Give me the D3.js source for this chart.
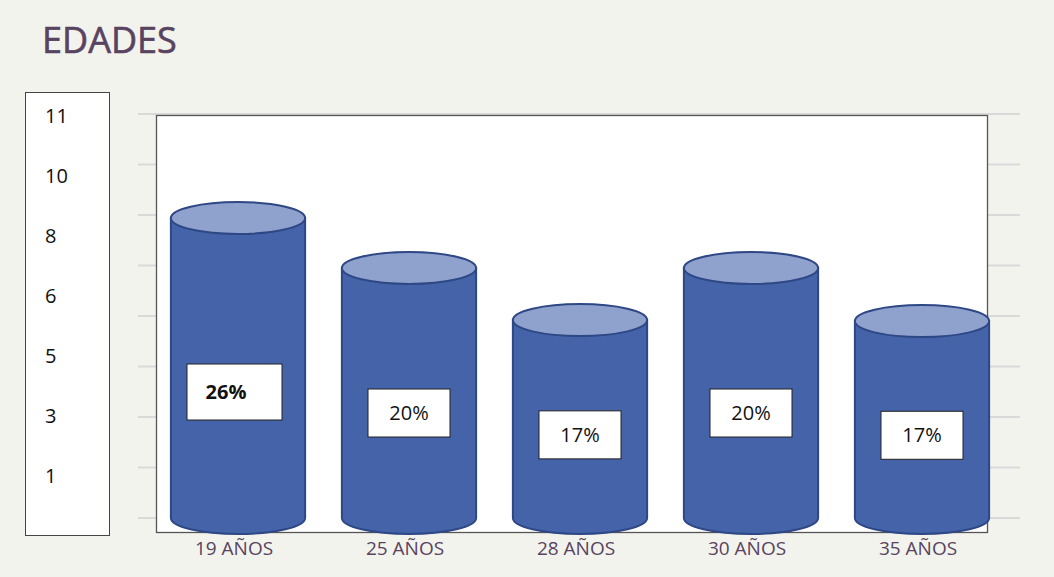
<!DOCTYPE html>
<html>
<head>
<meta charset="utf-8">
<script src="https://cdn.jsdelivr.net/npm/d3@7"></script>
<style>
  body { margin: 0; background: #f3f3ee; }
  svg { display: block; font-family: "Open Sans", sans-serif; }
</style>
</head>
<body>
<div id="chart"></div>
<script>
// data
const categories = ["19 AÑOS", "25 AÑOS", "28 AÑOS", "30 AÑOS", "35 AÑOS"];
const values = [5.94, 4.95, 3.92, 4.95, 3.9];
const percents = ["26%", "20%", "17%", "20%", "17%"];
const sideLabels = ["11", "10", "8", "6", "5", "3", "1"];

var width = 1054,
height = 577;

var svg = d3.select("#chart")
.append("svg")
.attr("width", width)
.attr("height", height);

svg.append("rect")
.attr("width", width)
.attr("height", height)
.style("fill", "#f3f3ee");

// title
svg.append("text")
.attr("x", 42)
.attr("y", 53)
.attr("font-size", 36)
.attr("fill", "#584360")
.style("stroke", "#584360")
.style("stroke-width", 0.6)
.text("EDADES");

var yScale = d3.scaleLinear()
.domain([0, 8])
.range([518, 114]);

var xScale = d3.scaleBand()
.domain(categories)
.range([152.5, 1007.5])
.paddingInner(0.215)
.paddingOuter(0.1075);

// gridlines (only the ends show outside the white plot box)
svg.append("g")
.selectAll("line")
.data(yScale.ticks(8))
.enter()
.append("line")
.attr("x1", 138)
.attr("x2", 1020)
.attr("y1", function(d) { return yScale(d); })
.attr("y2", function(d) { return yScale(d); })
.style("stroke", "#d9d9d9")
.style("stroke-width", 2);

// plot box
svg.append("rect")
.attr("x", 156.5)
.attr("y", 115.5)
.attr("width", 831)
.attr("height", 417)
.style("fill", "white")
.style("stroke", "#555")
.style("stroke-width", 1.3);

// side box with labels
svg.append("rect")
.attr("x", 25.5)
.attr("y", 92.5)
.attr("width", 84)
.attr("height", 443)
.style("fill", "white")
.style("stroke", "#444")
.style("stroke-width", 1);

var sideScale = d3.scalePoint()
.domain(sideLabels)
.range([116, 476]);

svg.append("g")
.selectAll("text")
.data(sideLabels)
.enter()
.append("text")
.attr("x", 45)
.attr("y", function(d) { return sideScale(d); })
.attr("dy", "0.35em")
.attr("font-size", 20)
.attr("fill", "#111")
.text(function(d) { return d; });

// cylinders
var ry = 16;
var bars = svg.append("g")
.selectAll("g")
.data(values)
.enter()
.append("g");

bars.append("path")
.attr("d", function(d, i) {
  var x0 = xScale(categories[i]),
  x1 = x0 + xScale.bandwidth(),
  rx = xScale.bandwidth() / 2,
  top = yScale(d),
  bottom = yScale(0);
  return "M" + x0 + "," + top + "L" + x0 + "," + bottom +
    "A" + rx + "," + ry + " 0 0 0 " + x1 + "," + bottom +
    "L" + x1 + "," + top + "Z";
})
.style("fill", "#4563a9")
.style("stroke", "#2e4785")
.style("stroke-width", 2);

bars.append("ellipse")
.attr("cx", function(d, i) { return xScale(categories[i]) + xScale.bandwidth() / 2; })
.attr("cy", function(d) { return yScale(d); })
.attr("rx", xScale.bandwidth() / 2)
.attr("ry", ry)
.style("fill", "#8fa1cd")
.style("stroke", "#2e4785")
.style("stroke-width", 2);

// percent boxes
bars.append("rect")
.attr("x", function(d, i) { return xScale(categories[i]) + xScale.bandwidth() / 2 - (i == 0 ? 51 : 41); })
.attr("y", function(d, i) { return yScale(d * 0.42) - (i == 0 ? 28 : 24); })
.attr("width", function(d, i) { return i == 0 ? 95 : 82; })
.attr("height", function(d, i) { return i == 0 ? 56 : 48; })
.style("fill", "white")
.style("stroke", "#222")
.style("stroke-width", 1);

bars.append("text")
.attr("x", function(d, i) { return xScale(categories[i]) + xScale.bandwidth() / 2 + (i == 0 ? -12 : 0); })
.attr("y", function(d) { return yScale(d * 0.42); })
.attr("dy", "0.35em")
.attr("text-anchor", "middle")
.attr("font-size", 20)
.attr("font-weight", function(d, i) { return i == 0 ? "bold" : "normal"; })
.attr("fill", "#111")
.text(function(d, i) { return percents[i]; });

// x axis labels
svg.append("g")
.selectAll("text")
.data(categories)
.enter()
.append("text")
.attr("x", function(d) { return xScale(d) + xScale.bandwidth() / 2 - 4; })
.attr("y", 555)
.attr("text-anchor", "middle")
.attr("font-size", 19)
.attr("fill", "#584360")
.text(function(d) { return d; });
</script>
</body>
</html>
